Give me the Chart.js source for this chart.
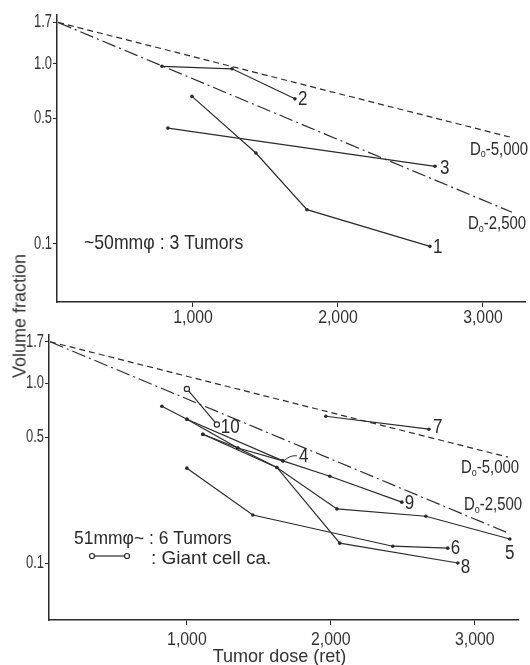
<!DOCTYPE html>
<html>
<head>
<meta charset="utf-8">
<script src="https://cdn.jsdelivr.net/npm/chart.js@4.4.0/dist/chart.umd.min.js"></script>
<style>
  body { margin: 0; background: #fff; }
  #wrap { position: relative; width: 530px; height: 665px; overflow: hidden; }
  #topChart { position: absolute; left: 0; top: 0; }
  #botChart { position: absolute; left: 0; top: 330px; }
  #ytitle {
    position: absolute; left: 20px; top: 316px;
    transform: translate(-50%, -50%) rotate(-90deg);
    font: 18px "Liberation Sans", sans-serif;
    color: #333; white-space: nowrap;
  }
</style>
</head>
<body>
<div id="wrap">
  <canvas id="topChart" width="530" height="330"></canvas>
  <canvas id="botChart" width="530" height="335"></canvas>
  <div id="ytitle">Volume fraction</div>
</div>
<script>
// upper panel: ~50mm tumors
const topDose1 = [993, 1434, 1786, 2634];
const topVol1 = [0.66, 0.32, 0.155, 0.097];
const topDose2 = [786, 1269, 1703];
const topVol2 = [0.97, 0.94, 0.64];
const topDose3 = [827, 2669];
const topVol3 = [0.44, 0.27];
const topRefDose = [70, 3200];
const topRef5000 = [1.7, 0.39];
const topRef2500 = [1.7, 0.15];

// lower panel: 51mm~ tumors
const botDose4 = [826, 1000, 1667];
const botVol4 = [0.745, 0.63, 0.37];
const botDose5 = [1111, 1625, 2042, 2660, 3243];
const botVol5 = [0.52, 0.34, 0.20, 0.182, 0.136];
const botDose6 = [1000, 1458, 2430, 2812];
const botVol6 = [0.337, 0.185, 0.124, 0.121];
const botDose7 = [1965, 2681];
const botVol7 = [0.655, 0.555];
const botDose8 = [1000, 1354, 1625, 2062, 2882];
const botVol8 = [0.63, 0.436, 0.34, 0.129, 0.1];
const botDose9 = [1111, 1354, 1667, 1993, 2493];
const botVol9 = [0.52, 0.436, 0.37, 0.304, 0.218];
const botDose10 = [1000, 1208];
const botVol10 = [0.93, 0.59];
const botRefDose = [50, 3230];
const botRef5000 = [1.7, 0.388];
const botRef2500 = [1.7, 0.147];

const doseTicks = [1000, 2000, 3000];
const volTicks = [0.1, 0.5, 1.0, 1.7];

const FONT = '"Liberation Sans", "Noto Sans", sans-serif';
const INK = '#2b2b2b';

function pts(xs, ys) {
  return xs.map((x, i) => ({ x: x, y: ys[i] }));
}

function tumor(xs, ys, tag, dx, dy, extra) {
  return Object.assign({
    data: pts(xs, ys),
    showLine: true,
    borderColor: INK,
    backgroundColor: INK,
    borderWidth: 1.2,
    pointRadius: 1.8,
    pointBorderWidth: 0,
    tag: tag, tagDx: dx, tagDy: dy
  }, extra || {});
}

function refLine(xs, ys, dash, tag, dx, dy) {
  return {
    data: pts(xs, ys),
    showLine: true,
    borderColor: INK,
    borderWidth: 1.2,
    borderDash: dash,
    pointRadius: 0,
    tag: tag, tagDx: dx, tagDy: dy, doLabel: true
  };
}

// squeezed text, the scan uses a narrow typewriter face
function txt(ctx, s, x, y, size, sx, align) {
  ctx.save();
  ctx.translate(x, y);
  ctx.scale(sx, 1);
  ctx.font = size + 'px ' + FONT;
  ctx.textAlign = align || 'left';
  ctx.textBaseline = 'middle';
  ctx.fillText(s, 0, 0);
  const w = ctx.measureText(s).width * sx;
  ctx.restore();
  return w;
}

function drawDo(ctx, text, x, y) {
  let w = txt(ctx, 'D', x, y, 18, 0.83);
  w += txt(ctx, 'o', x + w, y + 5, 10, 0.9);
  txt(ctx, text, x + w, y, 18, 0.83);
}

const tagPlugin = {
  id: 'tags',
  afterDraw(chart, args, opts) {
    const ctx = chart.ctx;
    const xs = chart.scales.x, ys = chart.scales.y;
    const area = chart.chartArea;
    ctx.save();

    // tick labels
    ctx.fillStyle = '#333';
    doseTicks.forEach(v => {
      txt(ctx, v.toLocaleString('en-US'), xs.getPixelForValue(v), area.bottom + opts.xLabelGap, 18, 0.88, 'center');
    });
    volTicks.forEach(v => {
      txt(ctx, v.toFixed(1), area.left - 5, ys.getPixelForValue(v), 18, 0.72, 'right');
    });
    if (opts.xTitle) {
      txt(ctx, opts.xTitle, (area.left + area.right) / 2 - 4, area.bottom + 37, 19, 0.95, 'center');
    }

    ctx.fillStyle = INK;
    ctx.strokeStyle = INK;
    chart.data.datasets.forEach(ds => {
      if (!ds.tag) return;
      const last = ds.data[ds.data.length - 1];
      const px = xs.getPixelForValue(last.x);
      const py = ys.getPixelForValue(last.y);
      if (ds.doLabel) {
        drawDo(ctx, ds.tag, px + ds.tagDx, py + ds.tagDy);
        return;
      }
      txt(ctx, ds.tag, px + ds.tagDx, py + ds.tagDy, 20, 0.85, ds.tagAlign || 'left');
      if (ds.leader) {
        ctx.lineWidth = 1;
        ctx.beginPath();
        ctx.moveTo(px + 2, py - 1);
        ctx.quadraticCurveTo(px + 8, py - 6, px + ds.tagDx - 2, py + ds.tagDy - 1);
        ctx.stroke();
      }
    });
    (opts.notes || []).forEach(n => {
      txt(ctx, n.text, n.x, n.y, n.size, n.sx);
    });
    if (opts.key) {
      const k = opts.key;
      ctx.lineWidth = 1.2;
      ctx.beginPath();
      ctx.moveTo(k.x1 + 2.5, k.y);
      ctx.lineTo(k.x2 - 2.5, k.y);
      ctx.stroke();
      [k.x1, k.x2].forEach(cx => {
        ctx.beginPath();
        ctx.arc(cx, k.y, 2.5, 0, Math.PI * 2);
        ctx.stroke();
      });
    }
    ctx.restore();
  }
};

function axes(xMin, xMax, yMin, yMax, yWidth, xHeight) {
  return {
    x: {
      type: 'linear', min: xMin, max: xMax,
      afterBuildTicks: s => { s.ticks = doseTicks.map(v => ({ value: v })); },
      afterFit: s => { s.height = xHeight; },
      ticks: { display: false },
      grid: { drawOnChartArea: false, tickLength: 5, color: INK },
      border: { color: INK, width: 1.5 }
    },
    y: {
      type: 'logarithmic', min: yMin, max: yMax,
      afterBuildTicks: s => { s.ticks = volTicks.map(v => ({ value: v })); },
      afterFit: s => { s.width = yWidth; },
      ticks: { display: false },
      grid: { drawOnChartArea: false, tickLength: 4, color: INK },
      border: { color: INK, width: 1.5 }
    }
  };
}

new Chart(document.getElementById('topChart'), {
  type: 'scatter',
  data: {
    datasets: [
      refLine(topRefDose, topRef5000, [6, 4], '-5,000', -42, 12),
      refLine(topRefDose, topRef2500, [14, 4, 2, 4], '-2,500', -44, 12),
      tumor(topDose1, topVol1, '1', 3, 1),
      tumor(topDose2, topVol2, '2', 3, 1),
      tumor(topDose3, topVol3, '3', 5, 2)
    ]
  },
  options: {
    responsive: false,
    animation: false,
    layout: { padding: { top: 15, right: 5, left: 0, bottom: 0 } },
    plugins: {
      legend: { display: false },
      tooltip: { enabled: false },
      tags: {
        xLabelGap: 16,
        notes: [{ text: '~50mm\u03c6 : 3 Tumors', x: 84, y: 243, size: 21, sx: 0.84 }]
      }
    },
    scales: axes(62, 3290, 0.0476, 1.87, 57, 28)
  },
  plugins: [tagPlugin]
});

new Chart(document.getElementById('botChart'), {
  type: 'scatter',
  data: {
    datasets: [
      refLine(botRefDose, botRef5000, [6, 4], '-5,000', -47, 11),
      refLine(botRefDose, botRef2500, [14, 4, 2, 4], '-2,500', -44, -28),
      tumor(botDose4, botVol4, '4', 16, -4, { leader: true }),
      tumor(botDose5, botVol5, '5', 0, 14, { tagAlign: 'center' }),
      tumor(botDose6, botVol6, '6', 3, 0),
      tumor(botDose7, botVol7, '7', 4, -2),
      tumor(botDose8, botVol8, '8', 3, 4),
      tumor(botDose9, botVol9, '9', 3, 1),
      tumor(botDose10, botVol10, '10', 4, 3, {
        pointRadius: 2.6, pointBorderWidth: 1.2, backgroundColor: '#fff'
      })
    ]
  },
  options: {
    responsive: false,
    animation: false,
    layout: { padding: { top: 5, right: 12, left: 0, bottom: 0 } },
    plugins: {
      legend: { display: false },
      tooltip: { enabled: false },
      tags: {
        xLabelGap: 20,
        xTitle: 'Tumor dose (ret)',
        notes: [
          { text: '51mm\u03c6~ : 6 Tumors', x: 74, y: 209, size: 19, sx: 0.92 },
          { text: ': Giant cell ca.', x: 151, y: 229, size: 19, sx: 1.0 }
        ],
        key: { x1: 92, x2: 127, y: 226 }
      }
    },
    scales: axes(42, 3300, 0.0482, 1.85, 49, 45)
  },
  plugins: [tagPlugin]
});
</script>
</body>
</html>
